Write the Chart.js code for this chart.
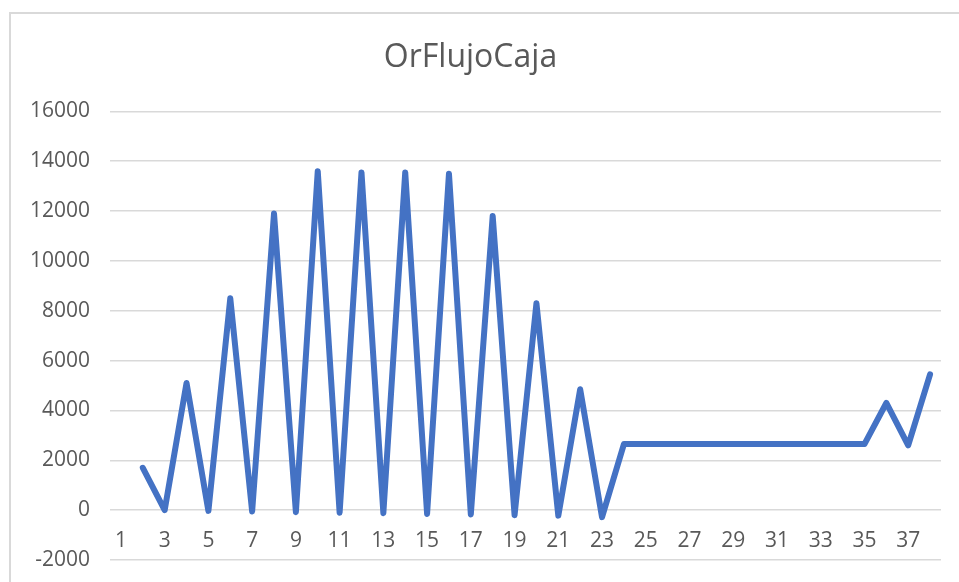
<!DOCTYPE html>
<html>
<head>
<meta charset="utf-8">
<script src="https://cdn.jsdelivr.net/npm/chart.js@4"></script>
<style>
  html, body { margin: 0; padding: 0; background: #fff; }
  #wrap { width: 959px; height: 582px; }
</style>
</head>
<body>
<div id="wrap">
    <canvas id="flujoChart" width="959" height="582"></canvas>
</div>

<script>
    // Periods 1..38 (first period has no value)
    const periods = [];
    for (let i = 1; i <= 38; i++) periods.push(String(i));

    const flujoCaja = [
        null, 1700, 0, 5100, -30, 8500, -50, 11900, -80, 13600,
        -100, 13550, -120, 13550, -150, 13500, -170, 11800, -200, 8300,
        -220, 4850, -280, 2650, 2650, 2650, 2650, 2650, 2650, 2650,
        2650, 2650, 2650, 2650, 2650, 4300, 2600, 5450
    ];

    const yMin = -2000;
    const yMax = 16000;
    const yStep = 2000;

    const textGray = '#595959';
    const gridGray = '#d9d9d9';

    // light frame around the chart, like the Excel chart border
    const framePlugin = {
        id: 'frame',
        beforeDraw(chart) {
            const ctx = chart.ctx;
            ctx.save();
            ctx.fillStyle = '#ffffff';
            ctx.fillRect(0, 0, chart.width, chart.height);
            ctx.fillStyle = gridGray;
            ctx.fillRect(9, 12, 2, chart.height - 12);
            ctx.fillRect(9, 12, chart.width - 9, 2);
            ctx.restore();
        }
    };

    new Chart(document.getElementById('flujoChart').getContext('2d'), {
        type: 'line',
        data: {
            labels: periods,
            datasets: [{
                label: 'OrFlujoCaja',
                data: flujoCaja,
                borderColor: '#4472C4',
                backgroundColor: '#4472C4',
                borderWidth: 6,
                borderJoinStyle: 'round',
                borderCapStyle: 'round',
                pointRadius: 0,
                tension: 0,
                fill: false
            }]
        },
        options: {
            responsive: false,
            animation: false,
            layout: {
                padding: { left: 0, right: 18, top: 0, bottom: 22 }
            },
            plugins: {
                legend: { display: false },
                tooltip: { enabled: false },
                title: {
                    display: true,
                    text: 'OrFlujoCaja',
                    color: textGray,
                    font: { family: 'Open Sans', size: 32, weight: 'normal' },
                    padding: { top: 39, bottom: 34 }
                }
            },
            scales: {
                x: {
                    type: 'category',
                    position: { y: 0 },
                    offset: true,
                    afterFit: (scale) => { scale.height = 0; },
                    grid: { display: false, drawTicks: false },
                    border: { display: false },
                    ticks: {
                        autoSkip: false,
                        maxRotation: 0,
                        color: textGray,
                        padding: 18,
                        font: { family: 'Open Sans', size: 21 },
                        callback: (value, index) => index % 2 === 0 ? periods[index] : ''
                    }
                },
                y: {
                    min: yMin,
                    max: yMax,
                    afterFit: (scale) => { scale.width = 110; },
                    // invisible tick marks give the gap between labels and grid
                    grid: { color: gridGray, lineWidth: 1.5, drawTicks: true, tickLength: 20, tickColor: 'rgba(0,0,0,0)' },
                    border: { display: false },
                    ticks: {
                        stepSize: yStep,
                        color: textGray,
                        padding: 0,
                        font: { family: 'Open Sans', size: 21 },
                        callback: (value) => String(value)
                    }
                }
            }
        },
        plugins: [framePlugin]
    });
</script>
</body>
</html>
